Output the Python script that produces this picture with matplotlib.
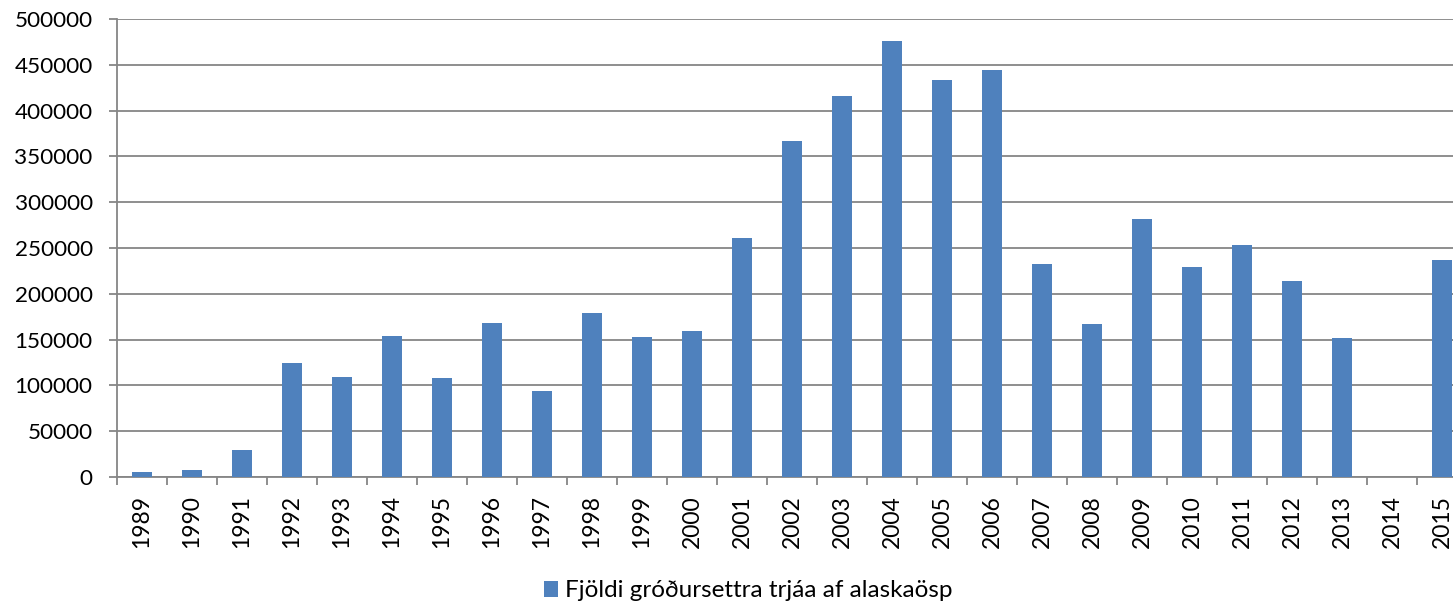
import matplotlib
matplotlib.use("Agg")
import matplotlib.pyplot as plt
import numpy as np

# Data
years = [str(y) for y in range(1989, 2016)]
trees = [
    5500, 8000, 29900, 124100, 109500, 153600, 108400, 168400, 93500,
    179400, 152500, 159700, 260600, 367100, 415900, 475600, 433100, 444000,
    232200, 167400, 281700, 228900, 253300, 214000, 151700, 0, 236600,
]
series_label = "Fjöldi gróðursettra trjáa af alaskaösp"
y_ticks = list(range(0, 500001, 50000))

BAR_COLOR = "#4F81BD"
GRID_COLOR = "#868686"

plt.rcParams["font.family"] = ["Lato", "DejaVu Sans"]

fig = plt.figure(figsize=(14.53, 6.03), dpi=100)
ax = fig.add_axes([117 / 1453, 126 / 603, 1350 / 1453, 458 / 603])

x = np.arange(len(years))
bars = ax.bar(x, trees, width=0.4, color=BAR_COLOR, zorder=3, label=series_label)

ax.set_xlim(-0.5, len(years) - 0.5)
ax.set_ylim(0, 500000)
ax.set_yticks(y_ticks)
ax.set_yticklabels([str(v) for v in y_ticks], fontsize=16.2)
ax.yaxis.grid(True, color=GRID_COLOR, linewidth=1.3, zorder=0)

# category labels centred, tick marks between categories
ax.set_xticks(x)
ax.set_xticklabels(years, rotation=90, fontsize=16.5)
ax.set_xticks(np.arange(-0.5, len(years), 1.0), minor=True)
ax.tick_params(axis="x", which="major", length=0, pad=13)
ax.tick_params(axis="x", which="minor", length=6, width=1.3, color=GRID_COLOR)
ax.tick_params(axis="y", length=5.5, width=1.3, color=GRID_COLOR, pad=12)

for side in ["top", "right"]:
    ax.spines[side].set_visible(False)
for side in ["left", "bottom"]:
    ax.spines[side].set_color(GRID_COLOR)
    ax.spines[side].set_linewidth(1.3)

fig.legend(
    handles=[bars],
    labels=[series_label],
    loc="center",
    bbox_to_anchor=(0.515, 0.02),
    frameon=False,
    fontsize=17.5,
    handlelength=0.6,
    handleheight=0.6,
    handletextpad=0.3,
)

fig.savefig("out.png", dpi=100)
